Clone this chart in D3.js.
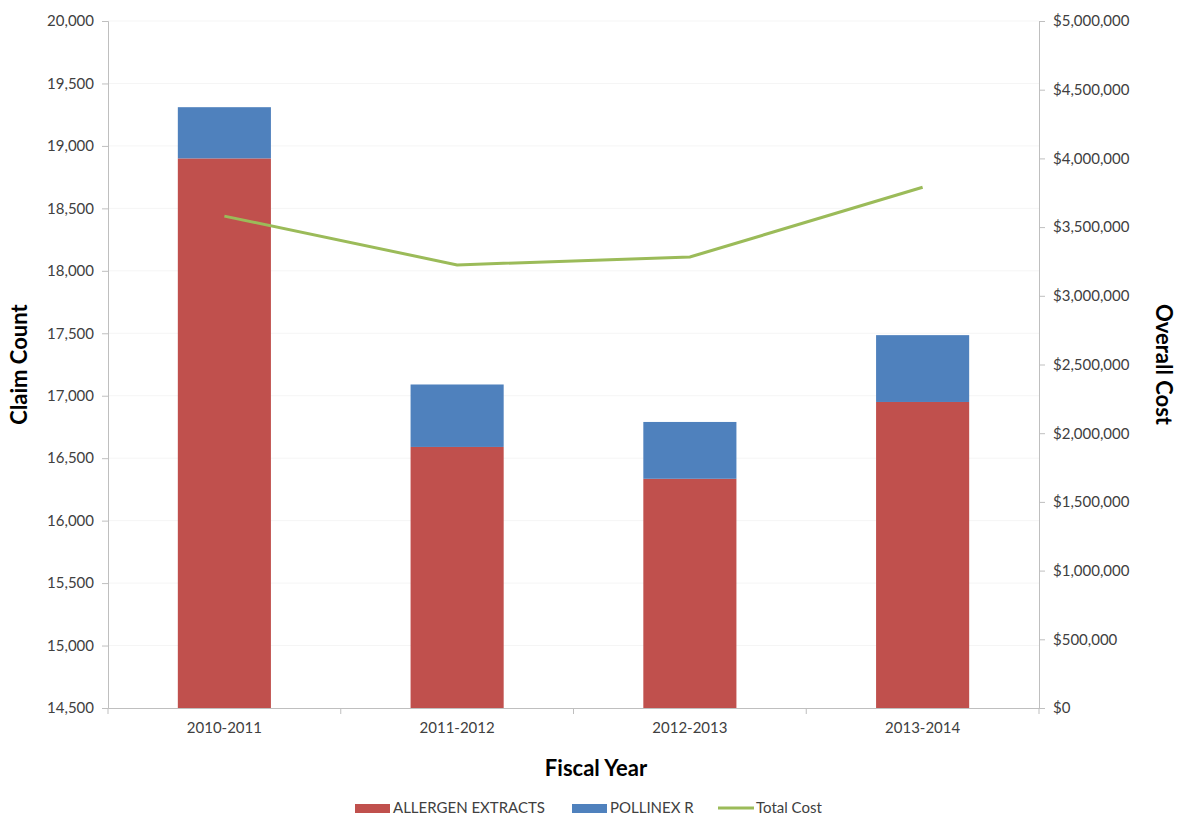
<!DOCTYPE html>
<html>
<head>
<meta charset="utf-8">
<script src="https://cdn.jsdelivr.net/npm/d3@7"></script>
<style>
body { margin:0; background:#fff; }
text { font-family: Lato, "Open Sans", sans-serif; }
</style>
</head>
<body>
<svg width="1177" height="819"></svg>
<script>
// chart data
var years = ["2010-2011", "2011-2012", "2012-2013", "2013-2014"]
var allergen = [18900, 16590, 16335, 16950]
var pollinex = [410, 500, 455, 535]
var totalCost = [3580000, 3225000, 3282000, 3790000]
var countTicks = d3.range(14500, 20001, 500)
var costTicks = d3.range(0, 5000001, 500000)

var margins = {top:21, bottom:111, left:108, right:138}
var screen = {width:1177, height:819}
var width = screen.width - margins.left - margins.right
var height = screen.height - margins.top - margins.bottom

var svg = d3.select("svg")
var g = svg.append("g").attr("id","graph")
    .attr("transform","translate("+margins.left+","+margins.top+")")

var xScale = d3.scaleBand()
    .domain(years)
    .range([0,width])
    .paddingInner(0.6)
    .paddingOuter(0.3)
var yScale = d3.scaleLinear()
    .domain([14500,20000])
    .range([height,0])
var y2Scale = d3.scaleLinear()
    .domain([0,5000000])
    .range([height,0])

// gridlines
g.selectAll(".grid")
    .data(countTicks.slice(1))
    .enter()
    .append("line")
    .attr("x1",0).attr("x2",width)
    .attr("y1",function(d){ return yScale(d) })
    .attr("y2",function(d){ return yScale(d) })
    .attr("stroke","#f5f5f5")

// stacked bars
var stack = years.map(function(y,i){
    return {year:y, a:allergen[i], total:allergen[i]+pollinex[i]}
})
g.selectAll(".red")
    .data(stack)
    .enter()
    .append("rect")
    .attr("x",function(d){ return xScale(d.year) })
    .attr("width",xScale.bandwidth())
    .attr("y",function(d){ return yScale(d.a) })
    .attr("height",function(d){ return height - yScale(d.a) })
    .attr("fill","#C0504D")
g.selectAll(".blue")
    .data(stack)
    .enter()
    .append("rect")
    .attr("x",function(d){ return xScale(d.year) })
    .attr("width",xScale.bandwidth())
    .attr("y",function(d){ return yScale(d.total) })
    .attr("height",function(d){ return yScale(d.a) - yScale(d.total) })
    .attr("fill","#4F81BD")

// cost line
var line = d3.line()
    .x(function(d,i){ return xScale(years[i]) + xScale.bandwidth()/2 })
    .y(function(d){ return y2Scale(d) })
g.append("path")
    .datum(totalCost)
    .attr("d",line)
    .attr("fill","none")
    .attr("stroke","#9BBB59")
    .attr("stroke-width",3)

// axes
var fmt = d3.format(",")
var yAxis = d3.axisLeft(yScale).tickValues(countTicks).tickFormat(fmt).tickSize(6).tickPadding(8)
var y2Axis = d3.axisRight(y2Scale).tickValues(costTicks).tickFormat(function(d){ return "$"+fmt(d) }).tickSize(6).tickPadding(8)
var xAxis = d3.axisBottom(xScale).tickSize(0).tickPadding(14)

var yg = g.append("g").attr("class","axis").call(yAxis)
var y2g = g.append("g").attr("class","axis").attr("transform","translate("+width+",0)").call(y2Axis)
var xg = g.append("g").attr("class","axis").attr("transform","translate(0,"+height+")").call(xAxis)

// band boundary ticks on the x axis
var step = xScale.step()
g.selectAll(".xtick")
    .data(d3.range(years.length+1))
    .enter()
    .append("line")
    .attr("x1",function(i){ return i*step })
    .attr("x2",function(i){ return i*step })
    .attr("y1",height).attr("y2",height+6)
    .attr("stroke","#bfbfbf")

svg.selectAll(".axis path").attr("stroke","#bfbfbf")
svg.selectAll(".axis line").attr("stroke","#bfbfbf")
svg.selectAll(".axis text").attr("fill","#404040").style("font-size","15px").style("font-family","Lato, sans-serif")

// axis titles
svg.append("text")
    .attr("transform","translate(27,"+(margins.top+height/2)+") rotate(-90)")
    .attr("text-anchor","middle")
    .style("font-size","22px").style("font-weight","bold")
    .text("Claim Count")
svg.append("text")
    .attr("transform","translate(1156,"+(margins.top+height/2)+") rotate(90)")
    .attr("text-anchor","middle")
    .style("font-size","22px").style("font-weight","bold")
    .text("Overall Cost")
svg.append("text")
    .attr("x",596).attr("y",776)
    .attr("text-anchor","middle")
    .style("font-size","22px").style("font-weight","bold")
    .text("Fiscal Year")

// legend
var legend = [
    {name:"ALLERGEN EXTRACTS", color:"#C0504D", type:"rect", x:355},
    {name:"POLLINEX R", color:"#4F81BD", type:"rect", x:572},
    {name:"Total Cost", color:"#9BBB59", type:"line", x:718}
]
var lg = svg.append("g").selectAll("g")
    .data(legend)
    .enter()
    .append("g")
    .attr("transform",function(d){ return "translate("+d.x+",808)" })
lg.filter(function(d){ return d.type=="rect" })
    .append("rect")
    .attr("x",0).attr("y",-4).attr("width",35).attr("height",9)
    .attr("fill",function(d){ return d.color })
lg.filter(function(d){ return d.type=="line" })
    .append("line")
    .attr("x1",0).attr("x2",36).attr("y1",0).attr("y2",0)
    .attr("stroke",function(d){ return d.color })
    .attr("stroke-width",3)
lg.append("text")
    .attr("x",38)
    .attr("y",5)
    .attr("fill","#404040")
    .style("font-size","15px")
    .text(function(d){ return d.name })
</script>
</body>
</html>
